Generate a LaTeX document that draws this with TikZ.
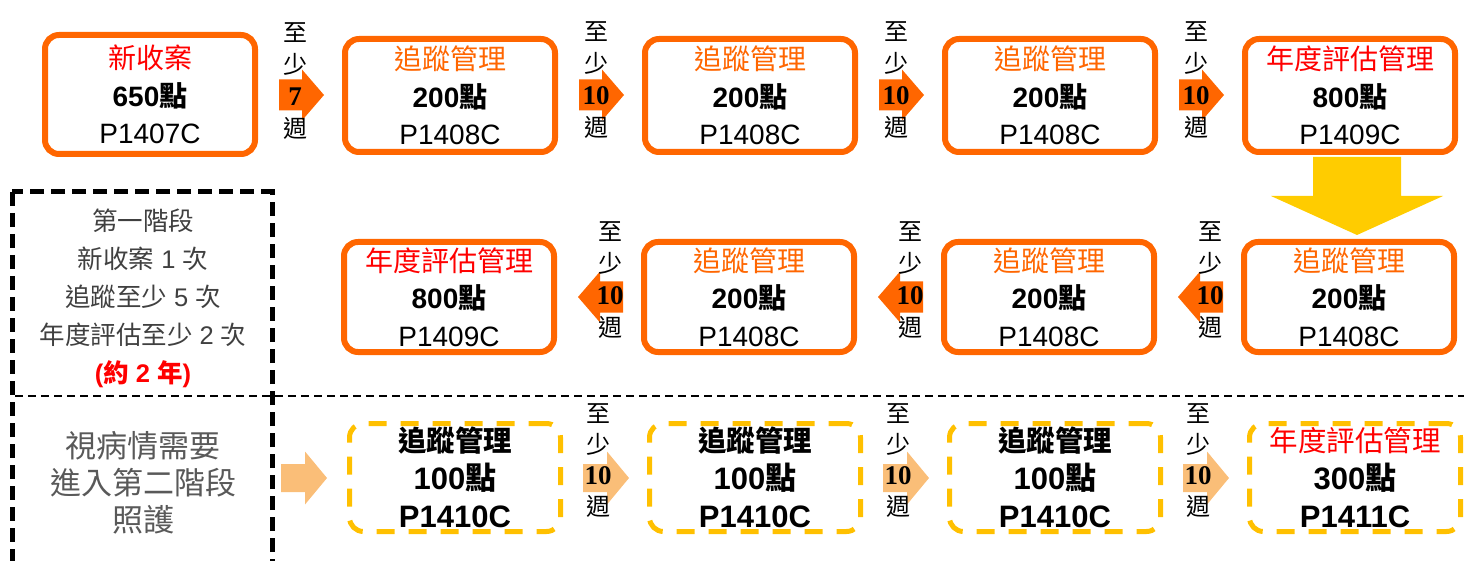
\documentclass[tikz,border=0pt]{standalone}
\usepackage{fontspec}
\setmainfont{Liberation Sans}
\newfontfamily\cjk{Noto Sans CJK TC}
\newfontfamily\tnr{Liberation Serif}
\newcommand\zh[1]{{\cjk #1}}
\definecolor{orA}{RGB}{255,102,0}
\definecolor{orL}{RGB}{250,190,120}
\definecolor{yelA}{RGB}{255,204,0}
\definecolor{yelD}{RGB}{255,192,0}
\definecolor{grA}{RGB}{64,64,64}
\definecolor{grB}{RGB}{89,89,89}
\tikzset{
  box/.style={draw=orA, line width=6pt, rounded corners=14pt, minimum width=210pt,
    minimum height=113pt, align=center, inner sep=0pt, fill=white,
    font=\fontsize{28}{37.5}\selectfont},
  dbox/.style={draw=yelD, line width=5pt, dash pattern=on 18pt off 14pt, rounded corners=14pt,
    minimum width=211pt, minimum height=108pt, align=center, inner sep=0pt,
    font=\fontsize{28.5}{38}\selectfont},
  lbl/.style={align=center, inner sep=0pt, font=\fontsize{24}{32}\selectfont},
  lbl3/.style={align=center, inner sep=0pt, font=\fontsize{24}{31}\selectfont},
  rarrow/.pic={\fill (-23,-15.5) -- (0,-15.5) -- (0,-25.5) -- (22,0) -- (0,25.5) -- (0,15.5) -- (-23,15.5) -- cycle;},
  larrow/.pic={\fill (-24,-14) -- (0,-14) -- (0,-26.5) -- (22,0) -- (0,26.5) -- (0,14) -- (-24,14) -- cycle;},
}
\newcommand\ten{{\tnr\bfseries\fontsize{27}{32}\selectfont 10}}
\begin{document}
\begin{tikzpicture}[x=1pt,y=-1pt]
\useasboundingbox (0,0) rectangle (1464,561);
\clip (0,0) rectangle (1464,561);

% frame and separator
\draw[black, line width=5pt, dash pattern=on 14pt off 7pt] (12,192) rectangle (272,620);
\draw[black, line width=2pt, dash pattern=on 8pt off 5pt] (15,396) -- (1464,396);

% row 1
\node[box, minimum height=119pt] (b1) at (150,94.5) {{\color{red}\zh{新收案}}\\{\bfseries 650\zh{點}}\\P1407C};
\node[box] (b2) at (450,95.5) {{\color{orA}\zh{追蹤管理}}\\{\bfseries 200\zh{點}}\\P1408C};
\node[box] (b3) at (750,95.5) {{\color{orA}\zh{追蹤管理}}\\{\bfseries 200\zh{點}}\\P1408C};
\node[box] (b4) at (1050,95.5) {{\color{orA}\zh{追蹤管理}}\\{\bfseries 200\zh{點}}\\P1408C};
\node[box] (b5) at (1350,95.5) {{\color{red}\zh{年度評估管理}}\\{\bfseries 800\zh{點}}\\P1409C};

\pic[fill=orA] at (302,95) {rarrow};
\pic[fill=orA] at (602,95) {rarrow};
\pic[fill=orA] at (902,95) {rarrow};
\pic[fill=orA] at (1202,95) {rarrow};
\node[lbl] (t1) at (295,81.5) {\zh{至}\\\zh{少}\\{\tnr\bfseries\fontsize{27}{32}\selectfont 7}\\\zh{週}};
\node[lbl] (t2) at (596,80) {\zh{至}\\\zh{少}\\\ten\\\zh{週}};
\node[lbl] (t3) at (896,80) {\zh{至}\\\zh{少}\\\ten\\\zh{週}};
\node[lbl] (t4) at (1196,80) {\zh{至}\\\zh{少}\\\ten\\\zh{週}};

% big yellow arrow
\fill[yelA] (1313,157) -- (1401,157) -- (1401,196) -- (1443,196) -- (1357,235) -- (1271,196) -- (1313,196) -- cycle;

% row 2
\node[box, minimum height=110pt] (c4) at (1349,297) {{\color{orA}\zh{追蹤管理}}\\{\bfseries 200\zh{點}}\\P1408C};
\node[box, minimum height=110pt] (c3) at (1049,297) {{\color{orA}\zh{追蹤管理}}\\{\bfseries 200\zh{點}}\\P1408C};
\node[box, minimum height=110pt] (c2) at (749,297) {{\color{orA}\zh{追蹤管理}}\\{\bfseries 200\zh{點}}\\P1408C};
\node[box, minimum height=110pt] (c1) at (449,297) {{\color{red}\zh{年度評估管理}}\\{\bfseries 800\zh{點}}\\P1409C};

\pic[fill=orA, xscale=-1] at (1200,297) {rarrow};
\pic[fill=orA, xscale=-1] at (900,297) {rarrow};
\pic[fill=orA, xscale=-1] at (600,297) {rarrow};
\node[lbl] (u3) at (1210,280) {\zh{至}\\\zh{少}\\\ten\\\zh{週}};
\node[lbl] (u2) at (910,280) {\zh{至}\\\zh{少}\\\ten\\\zh{週}};
\node[lbl] (u1) at (610,280) {\zh{至}\\\zh{少}\\\ten\\\zh{週}};

% left texts
\node[align=center, inner sep=0pt, text=grA, font=\fontsize{25.5}{38}\selectfont] (s1) at (143,298)
  {\zh{第一階段}\\\zh{新收案} 1 \zh{次}\\\zh{追蹤至少} 5 \zh{次}\\\zh{年度評估至少} 2 \zh{次}\\{\color{red}\bfseries (\zh{約} 2 \zh{年})}};
\node[align=center, inner sep=0pt, text=grB, font=\fontsize{31}{37}\selectfont] (s2) at (143,483)
  {\zh{視病情需要}\\\zh{進入第二階段}\\\zh{照護}};
\pic[fill=orL] at (305,478) {larrow};

% row 3
\node[dbox] (d1) at (455,477.5) {{\bfseries\zh{追蹤管理}}\\{\bfseries\fontsize{31}{38}\selectfont 100\zh{點}}\\{\bfseries\fontsize{31}{38}\selectfont P1410C}};
\node[dbox] (d2) at (755,477.5) {{\bfseries\zh{追蹤管理}}\\{\bfseries\fontsize{31}{38}\selectfont 100\zh{點}}\\{\bfseries\fontsize{31}{38}\selectfont P1410C}};
\node[dbox] (d3) at (1055,477.5) {{\bfseries\zh{追蹤管理}}\\{\bfseries\fontsize{31}{38}\selectfont 100\zh{點}}\\{\bfseries\fontsize{31}{38}\selectfont P1410C}};
\node[dbox] (d4) at (1355,477.5) {{\color{red}\zh{年度評估管理}}\\{\bfseries\fontsize{31}{38}\selectfont 300\zh{點}}\\{\bfseries\fontsize{31}{38}\selectfont P1411C}};

\pic[fill=orL] at (607,478) {larrow};
\pic[fill=orL] at (907,478) {larrow};
\pic[fill=orL] at (1207,478) {larrow};
\node[lbl3] (v1) at (598,461) {\zh{至}\\\zh{少}\\\ten\\\zh{週}};
\node[lbl3] (v2) at (898,461) {\zh{至}\\\zh{少}\\\ten\\\zh{週}};
\node[lbl3] (v3) at (1198,461) {\zh{至}\\\zh{少}\\\ten\\\zh{週}};
\end{tikzpicture}
\end{document}
